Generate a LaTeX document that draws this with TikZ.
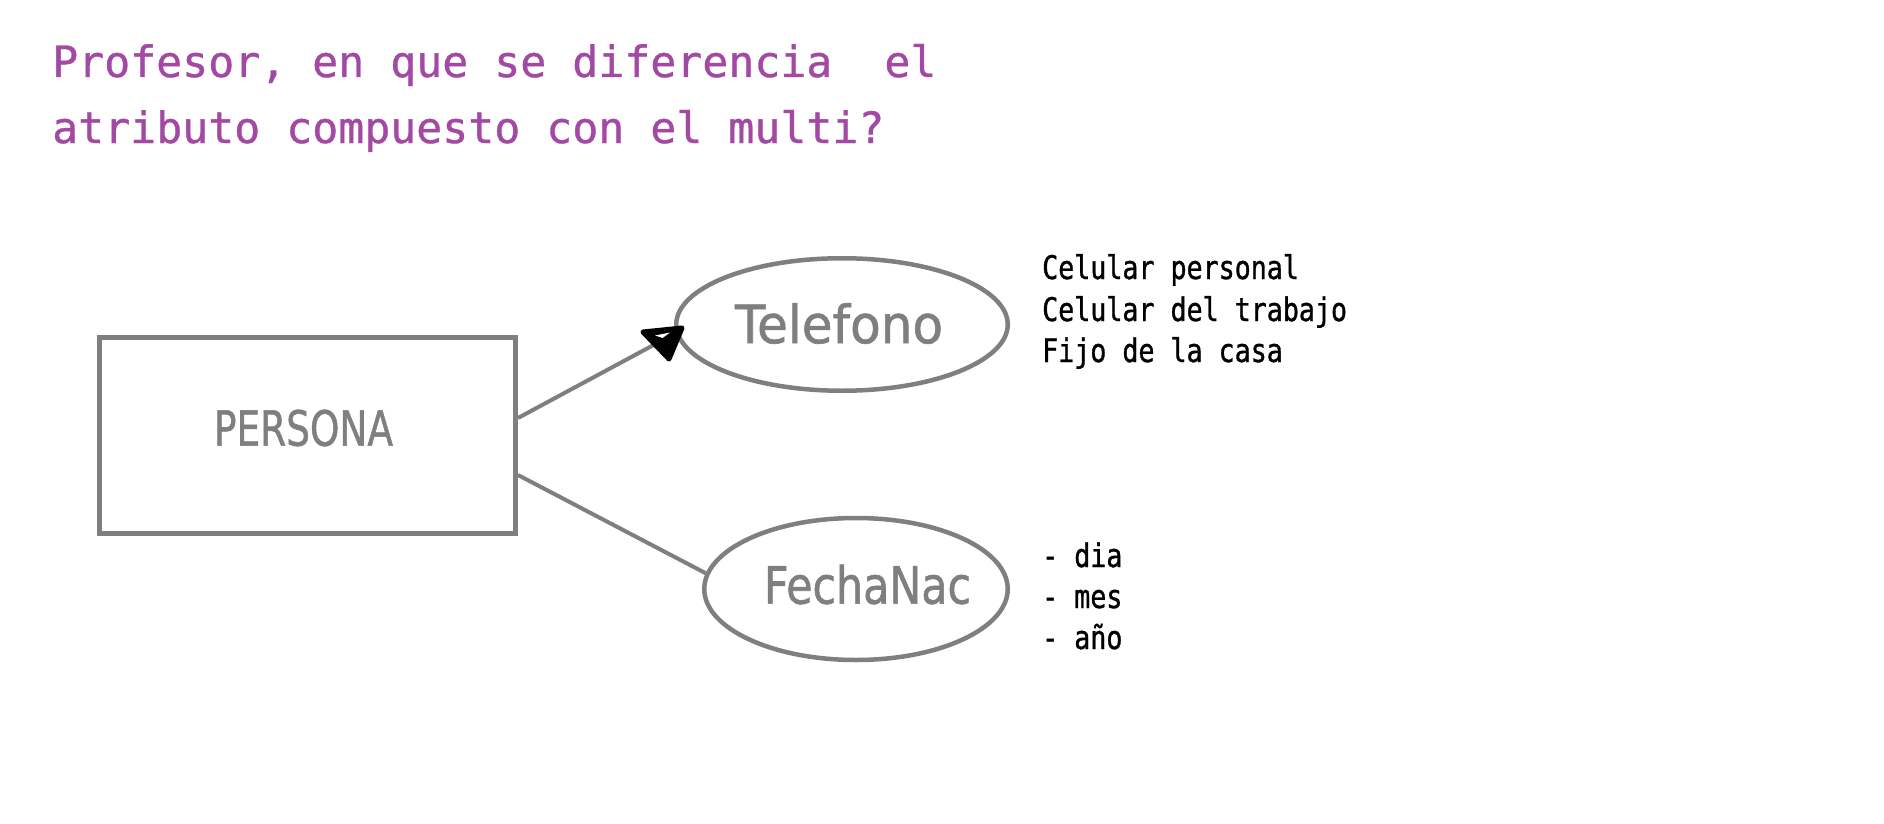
\documentclass[tikz,border=0pt]{standalone}
\usepackage{fontspec}
\usepackage{graphicx}
\usetikzlibrary{shapes.geometric,calc}
\newfontfamily\titlefont[FakeBold=0.8]{DejaVu Sans Mono}
\newfontfamily\notefont[FakeStretch=0.82,FakeBold=1]{DejaVu Sans Mono}
\newfontfamily\labelfont[FakeBold=1.2]{DejaVu Sans}
\definecolor{paintpurple}{RGB}{163,73,164}
\definecolor{paintgray}{RGB}{127,127,127}
\tikzset{
  titletext/.style={anchor=base west, inner sep=0pt, text=paintpurple, font=\titlefont\fontsize{43.2}{50}\selectfont},
  notetext/.style={anchor=base west, inner sep=0pt, text=black, font=\notefont\fontsize{32.5}{40}\selectfont},
  entitybox/.style={draw=paintgray, line width=4.6pt, rectangle, inner sep=0pt, minimum width=416.4pt, minimum height=196.4pt},
  attrell/.style={draw=paintgray, line width=4.5pt, ellipse, inner sep=0pt},
  lbl/.style={inner sep=0pt, text=paintgray, font=\labelfont},
  conn/.style={draw=paintgray, line width=4pt}
}
\begin{document}
\begin{tikzpicture}[x=1pt,y=-1pt]
\useasboundingbox[fill=white] (0,0) rectangle (1884,824);
% title
\node[titletext] (t1) at (52,77) {Profesor, en que se diferencia\ \ el};
\node[titletext] (t2) at (52,143) {atributo compuesto con el multi?};
% entity
\node[entitybox, label={[lbl, xshift=-4pt, yshift=7.5pt]center:\resizebox{179pt}{36pt}{PERSONA}}] (persona) at (307.5,435.5) {};
% attributes
\node[attrell, minimum width=331.5pt, minimum height=132.5pt, label={[lbl, xshift=-3pt, yshift=1pt]center:\resizebox{208pt}{40pt}{Telefono}}] (telefono) at (842,324.5) {};
\node[attrell, minimum width=303.5pt, minimum height=142pt, label={[lbl, xshift=11.5pt, yshift=4.5pt]center:\resizebox{207pt}{39pt}{FechaNac}}] (fechanac) at (856,589) {};
% connectors
\coordinate (tipin) at (661,341);
\draw[conn] ([yshift=17.5pt]persona.east) -- (tipin);
\draw[conn] ([yshift=-39.5pt]persona.east) -- (fechanac.174);
% hand-drawn arrow head
\filldraw[black, line width=5pt, line join=round] (643,332) -- (682,328) -- (669,359) -- cycle;
\fill[white] (655,335.5) -- (670,332.5) -- (662.5,338) -- cycle;
% notes
\node[notetext] (c1) at (1042,279) {Celular personal};
\node[notetext] (c2) at (1042,321) {Celular del trabajo};
\node[notetext] (c3) at (1042,362) {Fijo de la casa};
\node[notetext] (d1) at (1042,567) {- dia};
\node[notetext] (d2) at (1042,608) {- mes};
\node[notetext] (d3) at (1042,649) {- año};
\end{tikzpicture}
\end{document}
